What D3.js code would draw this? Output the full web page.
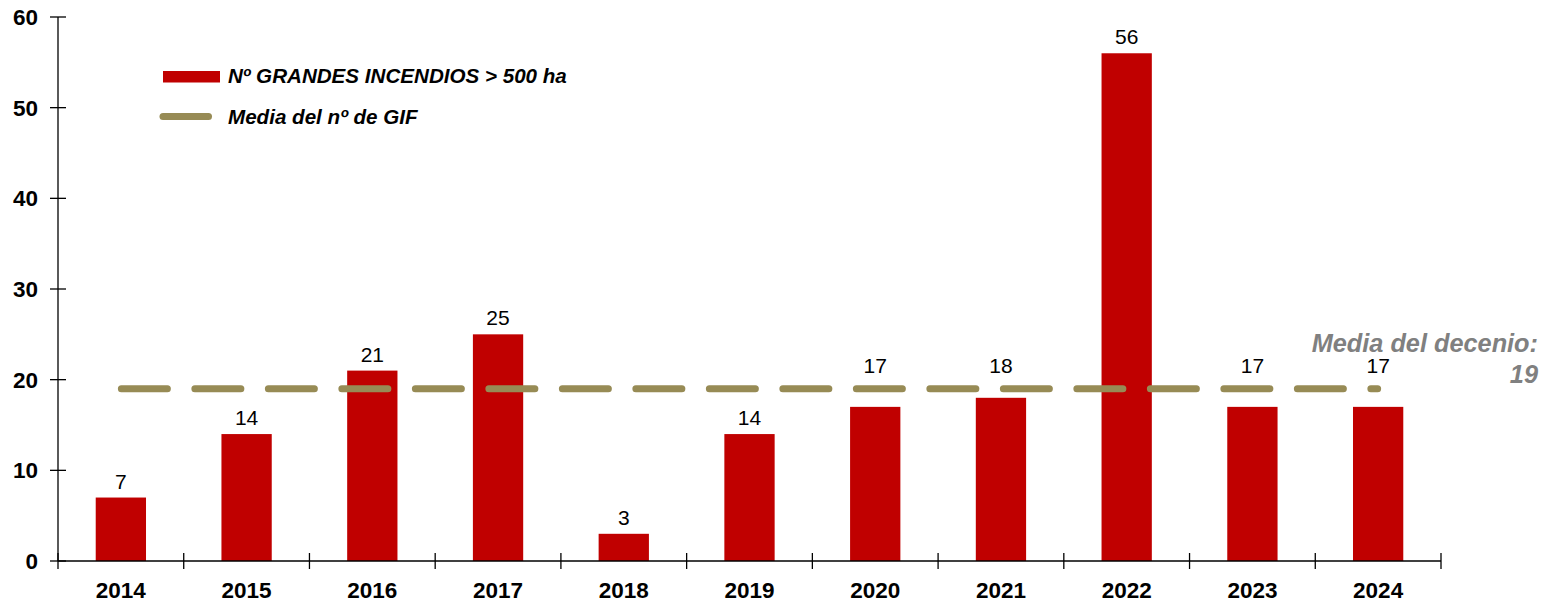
<!DOCTYPE html>
<html><head><meta charset="utf-8">
<script src="https://cdn.jsdelivr.net/npm/d3@7"></script>
<style>body{margin:0;background:#fff}svg{display:block}text{font-family:"Liberation Sans",Arial,sans-serif}</style>
</head><body><svg id="c" width="1542" height="603"></svg>
<script>
const years = ["2014","2015","2016","2017","2018","2019","2020","2021","2022","2023","2024"];
const fires = [7,14,21,25,3,14,17,18,56,17,17];
const decadeMean = 19;
const yTicks = [0,10,20,30,40,50,60];
const legendLabels = ["Nº GRANDES INCENDIOS > 500 ha","Media del nº de GIF"];
const meanLabel = ["Media del decenio:","19"];

const svg = d3.select("#c");
const x = d3.scaleBand().domain(years).range([58,1441]).paddingInner(0.6).paddingOuter(0.3);
const y = d3.scaleLinear().domain([0,60]).range([561,17]);
const RED = "#c00000", OLIVE = "#978b55";

// bars
svg.selectAll("rect.bar").data(years).join("rect").attr("class","bar")
  .attr("x", d=>x(d)).attr("width", x.bandwidth())
  .attr("y", (d,i)=>y(fires[i])).attr("height",(d,i)=>y(0)-y(fires[i]))
  .attr("fill", RED);

// mean line
const x0 = x(years[0]) + x.bandwidth()/2, x1 = x(years[years.length-1]) + x.bandwidth()/2;
svg.append("line").attr("x1",x0+0.5).attr("x2",x1-0.5).attr("y1",y(decadeMean)).attr("y2",y(decadeMean))
  .attr("stroke",OLIVE).attr("stroke-width",7).attr("stroke-linecap","round")
  .attr("stroke-dasharray","46,27.5");

// value labels
svg.selectAll("text.val").data(years).join("text").attr("class","val")
  .attr("x", d=>x(d)+x.bandwidth()/2)
  .attr("y", (d,i)=>{
    const v = fires[i];
    if (v < decadeMean && v > decadeMean-4) return y(decadeMean)-16;
    return y(v)-9;
  })
  .attr("text-anchor","middle").attr("font-size",21).attr("fill","#000")
  .text((d,i)=>fires[i]);

// axes
const g = svg.append("g").attr("stroke","#000").attr("stroke-width",1.3);
g.append("line").attr("x1",58).attr("x2",58).attr("y1",y(60)).attr("y2",y(0));
g.append("line").attr("x1",58).attr("x2",1441).attr("y1",y(0)).attr("y2",y(0));
g.selectAll("line.yt").data(yTicks).join("line").attr("class","yt")
  .attr("x1",50).attr("x2",66).attr("y1",d=>y(d)).attr("y2",d=>y(d));
const bounds = years.map(d=>x(d)-x.paddingInner()*x.step()/2).concat([1441]);
bounds[0]=58;
g.selectAll("line.xt").data(bounds).join("line").attr("class","xt")
  .attr("x1",d=>d).attr("x2",d=>d).attr("y1",553).attr("y2",569);

svg.selectAll("text.yl").data(yTicks).join("text").attr("class","yl")
  .attr("x",38).attr("y",d=>y(d)+8).attr("text-anchor","end")
  .attr("font-size",22.5).attr("font-weight","bold").text(d=>d);
svg.selectAll("text.xl").data(years).join("text").attr("class","xl")
  .attr("x",d=>x(d)+x.bandwidth()/2).attr("y",598).attr("text-anchor","middle")
  .attr("font-size",22.5).attr("font-weight","bold").text(d=>d);

// legend
svg.append("rect").attr("x",163).attr("y",71).attr("width",57).attr("height",11.5).attr("fill",RED);
svg.append("line").attr("x1",163).attr("x2",208.5).attr("y1",116.5).attr("y2",116.5)
  .attr("stroke",OLIVE).attr("stroke-width",7).attr("stroke-linecap","round");
svg.selectAll("text.lg").data(legendLabels).join("text").attr("class","lg")
  .attr("x",228).attr("y",(d,i)=>83+i*41)
  .attr("font-size",20.6).attr("font-weight","bold").attr("font-style","italic").text(d=>d);

// mean annotation
svg.selectAll("text.ml").data(meanLabel).join("text").attr("class","ml")
  .attr("x",1538).attr("y",(d,i)=>352+i*31).attr("text-anchor","end")
  .attr("font-size",25.3).attr("font-weight","bold").attr("font-style","italic").attr("fill","#808080")
  .text(d=>d);
</script></body></html>
